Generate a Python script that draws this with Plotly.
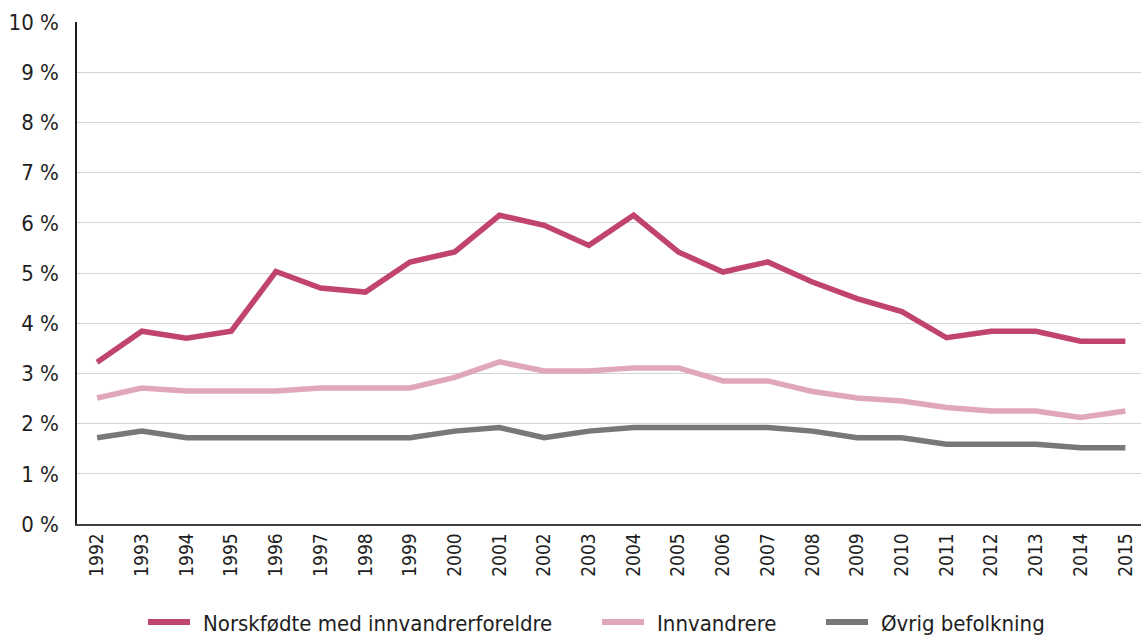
import plotly.graph_objects as go

years = list(range(1992, 2016))

norskfodte = [3.22, 3.84, 3.70, 3.84, 5.03, 4.70, 4.62, 5.22, 5.42, 6.15, 5.95, 5.55,
              6.15, 5.42, 5.02, 5.22, 4.82, 4.49, 4.23, 3.71, 3.84, 3.84, 3.64, 3.64]
innvandrere = [2.51, 2.71, 2.65, 2.65, 2.65, 2.71, 2.71, 2.71, 2.92, 3.23, 3.05, 3.05,
               3.11, 3.11, 2.85, 2.85, 2.64, 2.51, 2.45, 2.32, 2.25, 2.25, 2.12, 2.25]
ovrig = [1.72, 1.85, 1.72, 1.72, 1.72, 1.72, 1.72, 1.72, 1.85, 1.92, 1.72, 1.85,
         1.92, 1.92, 1.92, 1.92, 1.85, 1.72, 1.72, 1.59, 1.59, 1.59, 1.52, 1.52]

series_names = ["Norskfødte med innvandrerforeldre", "Innvandrere", "Øvrig befolkning"]
series_values = [norskfodte, innvandrere, ovrig]
series_colors = ["#C1436F", "#E0A7BA", "#787878"]

y_ticks = list(range(0, 11))
y_labels = [f"{v} %" for v in y_ticks]

FONT = "DejaVu Sans Condensed, DejaVu Sans, Verdana, sans-serif"
TEXT_COLOR = "#1e1e1e"

# plot area geometry (pixels) used to place the legend row below the axis
W, H = 1141, 635
ML, MR, MT, MB = 77, 0, 22, 111
PW, PH = W - ML - MR, H - MT - MB


def px_x(px):
    return (px - ML) / PW


def px_y(py):
    return (H - MB - py) / PH


fig = go.Figure()
for name, vals, col in zip(series_names, series_values, series_colors):
    fig.add_trace(go.Scatter(
        x=years, y=vals, name=name, mode="lines",
        line=dict(color=col, width=5.5),
        showlegend=False,
    ))

# legend row: key line + label for each series
legend_key_left = [148, 602, 826]
legend_y = 622
shapes, annotations = [], []
for name, col, kx in zip(series_names, series_colors, legend_key_left):
    shapes.append(dict(
        type="line", xref="paper", yref="paper",
        x0=px_x(kx), x1=px_x(kx + 42), y0=px_y(legend_y), y1=px_y(legend_y),
        line=dict(color=col, width=6),
    ))
    annotations.append(dict(
        text=name, xref="paper", yref="paper",
        x=px_x(kx + 53), y=px_y(legend_y + 1), xanchor="left", yanchor="middle",
        showarrow=False, font=dict(family=FONT, size=22, color=TEXT_COLOR),
    ))

fig.update_layout(
    width=W, height=H,
    margin=dict(l=ML, r=MR, t=MT, b=MB, autoexpand=False),
    paper_bgcolor="white", plot_bgcolor="white",
    showlegend=False,
    shapes=shapes, annotations=annotations,
    xaxis=dict(
        range=[1991.55, 2015.35], tickvals=years, ticktext=[str(y) for y in years],
        tickangle=-90, showgrid=False, zeroline=False,
        showline=True, linecolor="#404040", linewidth=1.5,
        ticks="", tickfont=dict(family=FONT, size=19, color=TEXT_COLOR),
    ),
    yaxis=dict(
        range=[0, 10], tickvals=y_ticks, ticktext=y_labels,
        showgrid=True, gridcolor="#d4d4d4", gridwidth=1.2,
        zeroline=False, showline=True, linecolor=TEXT_COLOR, linewidth=1.5,
        ticks="", tickfont=dict(family=FONT, size=22, color=TEXT_COLOR),
        ticklabelstandoff=12,
    ),
)

fig.write_html("out.html")
